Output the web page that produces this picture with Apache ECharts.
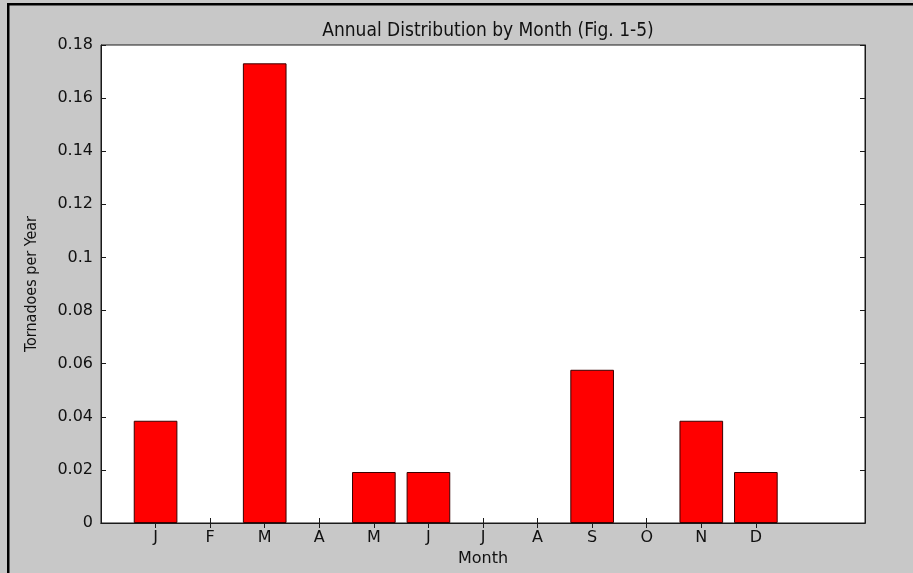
<!DOCTYPE html>
<html>
<head>
<meta charset="utf-8">
<script src="https://cdn.jsdelivr.net/npm/echarts@6/dist/echarts.min.js"></script>
<style>
  html, body { margin: 0; padding: 0; background: #c8c8c8; overflow: hidden; }
  #chart { width: 913px; height: 573px; }
</style>
</head>
<body>
<div id="chart"></div>
<script>
// Monthly tornado rate
const months = ['J', 'F', 'M', 'A', 'M', 'J', 'J', 'A', 'S', 'O', 'N', 'D'];
const tornadoesPerYear = [0.0385, 0, 0.1731, 0, 0.0192, 0.0192, 0, 0, 0.0577, 0, 0.0385, 0.0192];
const yTicks = [0, 0.02, 0.04, 0.06, 0.08, 0.1, 0.12, 0.14, 0.16, 0.18];

// x runs from 0 to 14 with the months at 1..12; empty months draw no bar
const slots = [''].concat(months, ['', '']);
const barData = [null].concat(tornadoesPerYear.map((v) => (v === 0 ? '-' : v)), [null, null]);
const onMonth = (i) => i >= 1 && i <= months.length;

const tickFont = '"DejaVu Sans", sans-serif';
const narrowFont = '"DejaVu Sans Condensed", "Liberation Sans Narrow", "Roboto", sans-serif';

const chart = echarts.init(document.getElementById('chart'), null, { renderer: 'canvas' });

const xBase = {
  type: 'category',
  data: slots,
  boundaryGap: false,
  axisLine: { show: true, lineStyle: { color: '#1a1a1a', width: 1 } },
  axisTick: { show: true, inside: true, length: 5, interval: onMonth, lineStyle: { color: '#1a1a1a' } },
  splitLine: { show: false }
};
const yBase = {
  type: 'value',
  min: yTicks[0],
  max: yTicks[yTicks.length - 1],
  interval: 0.02,
  axisLine: { show: true, lineStyle: { color: '#1a1a1a', width: 1 } },
  axisTick: { show: true, inside: true, length: 5, lineStyle: { color: '#1a1a1a' } },
  splitLine: { show: false }
};

chart.setOption({
  backgroundColor: '#c8c8c8',
  animation: false,
  title: {
    text: 'Annual Distribution by Month (Fig. 1-5)',
    left: 483,
    textAlign: 'center',
    top: 17,
    textStyle: { fontFamily: narrowFont, fontSize: 19, fontWeight: 'normal', color: '#111' }
  },
  grid: {
    left: 101, top: 45, right: 48, bottom: 50,
    show: true, backgroundColor: '#ffffff', borderColor: '#1a1a1a', borderWidth: 1
  },
  graphic: [
    { type: 'rect', shape: { x: 7, y: 3, width: 2.5, height: 570 }, style: { fill: '#000' } },
    { type: 'rect', shape: { x: 7, y: 3, width: 906, height: 2.5 }, style: { fill: '#000' } }
  ],
  xAxis: [
    Object.assign({}, xBase, {
      position: 'bottom',
      axisLabel: { show: true, interval: 0, margin: 7, color: '#111', fontFamily: tickFont, fontSize: 16 },
      name: 'Month',
      nameLocation: 'middle',
      nameGap: 26,
      nameTextStyle: { color: '#111', fontFamily: tickFont, fontSize: 16 }
    }),
    Object.assign({}, xBase, { position: 'top', axisLabel: { show: false } })
  ],
  yAxis: [
    Object.assign({}, yBase, {
      position: 'left',
      axisLabel: {
        show: true, margin: 8, color: '#111', fontFamily: tickFont, fontSize: 16,
        formatter: (v) => String(parseFloat(v.toFixed(2)))
      },
      name: 'Tornadoes per Year',
      nameLocation: 'middle',
      nameRotate: 90,
      nameGap: 61,
      nameTextStyle: { color: '#111', fontFamily: narrowFont, fontSize: 16 }
    }),
    Object.assign({}, yBase, { position: 'right', axisLabel: { show: false } })
  ],
  series: [{
    type: 'bar',
    xAxisIndex: 0,
    yAxisIndex: 0,
    data: barData,
    barWidth: '80%',
    itemStyle: { color: '#ff0000', borderColor: '#3a0000', borderWidth: 1 }
  }]
});
</script>
</body>
</html>
